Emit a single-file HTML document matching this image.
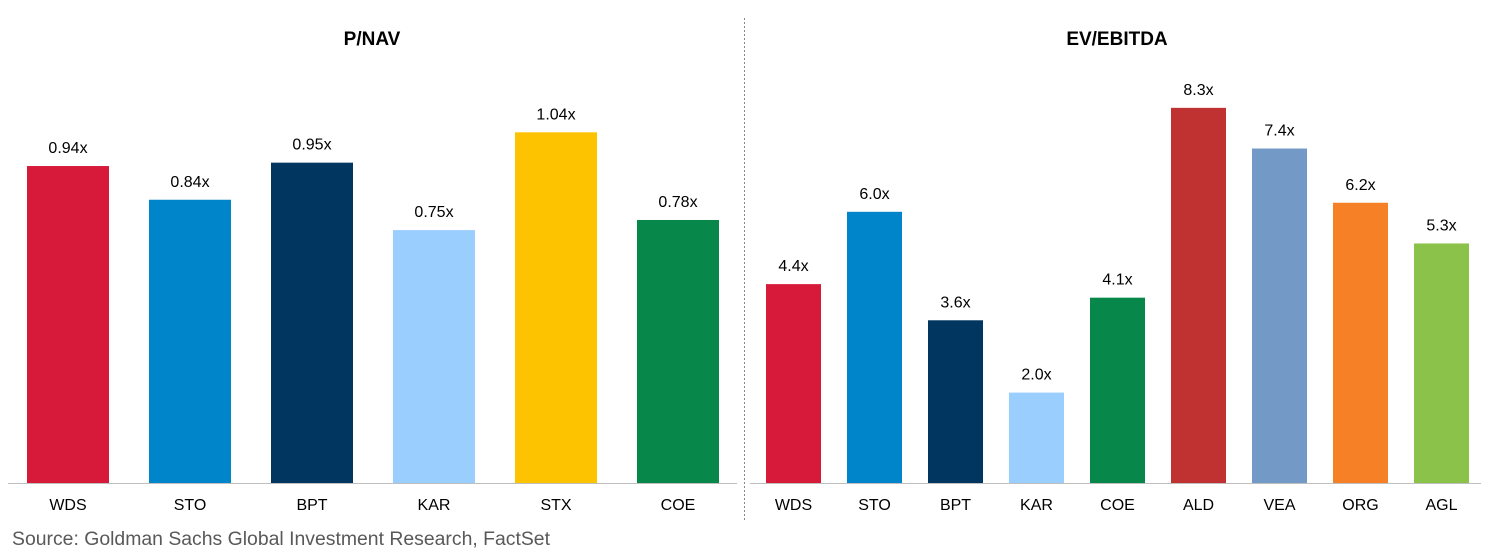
<!DOCTYPE html>
<html><head><meta charset="utf-8"><style>
body{margin:0;background:#fff;width:1487px;height:555px;overflow:hidden;font-family:"Liberation Sans",sans-serif;}
svg text{font-family:"Liberation Sans",sans-serif;}
</style></head><body>
<svg id="c" width="1487" height="555"></svg>
<script>
const leftCats=["WDS","STO","BPT","KAR","STX","COE"];
const leftVals=[0.94,0.84,0.95,0.75,1.04,0.78];
const leftLabels=["0.94x","0.84x","0.95x","0.75x","1.04x","0.78x"];
const rightCats=["WDS","STO","BPT","KAR","COE","ALD","VEA","ORG","AGL"];
const rightVals=[4.4,6.0,3.6,2.0,4.1,8.3,7.4,6.2,5.3];
const rightLabels=["4.4x","6.0x","3.6x","2.0x","4.1x","8.3x","7.4x","6.2x","5.3x"];
const colorMap={WDS:"#D7193A",STO:"#0085CA",BPT:"#003660",KAR:"#99CEFF",STX:"#FDC300",COE:"#07884A",ALD:"#C03232",VEA:"#739AC6",ORG:"#F58025",AGL:"#8BC34A"};
const svg=document.getElementById('c');
const NS="http://www.w3.org/2000/svg";
function mk(t,a,txt){const e=document.createElementNS(NS,t);for(const k in a)e.setAttribute(k,a[k]);if(txt!==undefined)e.textContent=txt;svg.appendChild(e);return e;}
const base=483;
function drawChart(name,cats,vals,labels,x0,step,bw,pxPerUnit,title,tx,lx0,lx1){
  const t=mk('text',{x:tx,y:45,'text-anchor':'middle','font-size':19,'font-weight':'bold',fill:'#000'},title);
  
  
  const yv=v=>base-v*pxPerUnit;
  cats.forEach((c,i)=>{
    const x=x0+i*step;
    const r=mk('rect',{x:x,y:yv(vals[i]),width:bw,height:base-yv(vals[i]),fill:colorMap[c]});
    
    
    const v=mk('text',{x:x+bw/2,y:yv(vals[i])-13,'text-anchor':'middle','font-size':16,fill:'#000'},labels[i]);
    
    
    const l=mk('text',{x:x+bw/2,y:510,'text-anchor':'middle','font-size':16,fill:'#000'},c);
    
    
  });
  const ax=mk('line',{x1:lx0,x2:lx1,y1:base+0.5,y2:base+0.5,stroke:'#bfbfbf','stroke-width':1});
  
  
}
drawChart('pnav',leftCats,leftVals,leftLabels,27,122,82,337.2,'P/NAV',372,8,737);
drawChart('ev-ebitda',rightCats,rightVals,rightLabels,766,81,55,45.2,'EV/EBITDA',1117,750,1481);
const d=mk('line',{x1:744.5,x2:744.5,y1:18,y2:520,stroke:'#888','stroke-width':1,'stroke-dasharray':'2,2'});


const s=mk('text',{x:12,y:545,'font-size':19,fill:'#595959',textLength:538,lengthAdjust:'spacingAndGlyphs'},'Source: Goldman Sachs Global Investment Research, FactSet');


</script>
</body></html>
